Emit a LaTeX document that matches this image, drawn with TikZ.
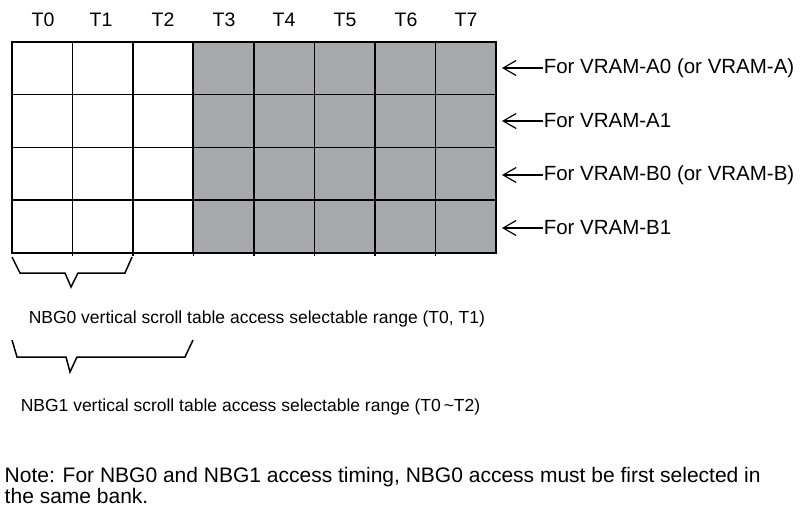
\documentclass[tikz,border=0pt]{standalone}
\usepackage{fontspec}
\setmainfont{Liberation Sans}
\usetikzlibrary{arrows.meta}

\definecolor{cellgray}{RGB}{167,168,172}

\begin{document}
\begin{tikzpicture}
  [x=1pt,y=-1pt,line width=1.5pt,
   every node/.style={inner sep=0pt,font=\fontsize{17.5}{20}\selectfont},
   collab/.style={font=\fontsize{19.5}{22}\selectfont},
   vramlab/.style={anchor=west,font=\fontsize{20.5}{23}\selectfont},
   pointer/.style={line width=1.2pt,-{Straight Barb[length=13pt,width=15pt]}},
   brace/.style={line width=1.5pt,line join=miter}]
  \useasboundingbox (0,0) rectangle (804,508);

  % shaded banks T3..T7
  \fill[cellgray] (193,42) rectangle (496,253);
  \foreach \i in {1,...,7}
    \draw ({12+60.5*\i},42) -- ({12+60.5*\i},256);
  \foreach \j in {1,2,3}
    \draw (12,{42+52.75*\j}) -- (496,{42+52.75*\j});
  \draw (12,42) rectangle (496,253);
  \draw[line width=2pt] (193,42) rectangle (496,253);

  % column labels
  \node[collab] (t0) at (43,20)  {T0};
  \node[collab] (t1) at (101,20) {T1};
  \node[collab] (t2) at (163,20) {T2};
  \node[collab] (t3) at (224,20) {T3};
  \node[collab] (t4) at (284,20) {T4};
  \node[collab] (t5) at (345,20) {T5};
  \node[collab] (t6) at (406,20) {T6};
  \node[collab] (t7) at (466,20) {T7};

  % VRAM rows
  \coordinate (p1) at (502,68);
  \coordinate (p2) at (502,121);
  \coordinate (p3) at (502,175);
  \coordinate (p4) at (502,228);
  \node[vramlab] (va0) at (543,68)  {For VRAM-A0 (or VRAM-A)};
  \node[vramlab] (va1) at (543,121) {For VRAM-A1};
  \node[vramlab] (vb0) at (543,175) {For VRAM-B0 (or VRAM-B)};
  \node[vramlab] (vb1) at (543,228) {For VRAM-B1};
  \draw[pointer] (va0.west) -- (p1);
  \draw[pointer] (va1.west) -- (p2);
  \draw[pointer] (vb0.west) -- (p3);
  \draw[pointer] (vb1.west) -- (p4);

  % selectable ranges
  \draw[brace] (12,257) -- (20,273) -- (65,273) -- (71,287)
    -- (78,273) -- (125,273) -- (132,257);
  \node[anchor=west] (nbg0) at (28,319)
    {NBG0 vertical scroll table access selectable range (T0, T1)};
  \draw[brace] (12,340) -- (17,357) -- (66,357) -- (70,372)
    -- (77,357) -- (185,357) -- (193,340);
  \node[anchor=west] (nbg1) at (20,407)
    {NBG1 vertical scroll table access selectable range (T0\,\textasciitilde T2)};

  % note
  \node[anchor=north west,align=left,font=\fontsize{21}{21}\selectfont] (note) at (4,467)
    {Note: For NBG0 and NBG1 access timing, NBG0 access must be first selected in\\
     the same bank.};
\end{tikzpicture}
\end{document}
